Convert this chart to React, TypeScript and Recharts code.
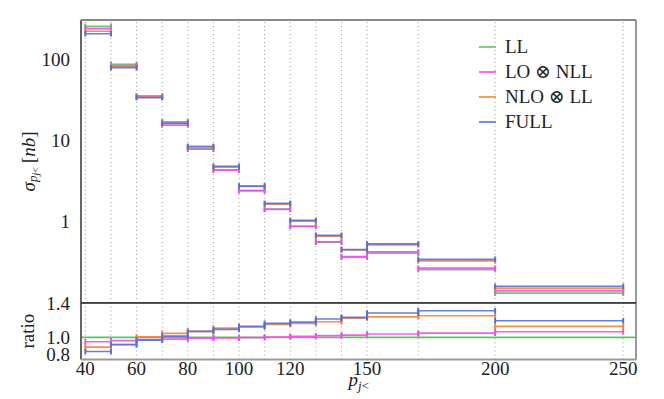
import React from 'react'
import {
  ComposedChart, Line, XAxis, YAxis, ReferenceLine, Legend,
} from 'recharts'

// bin edges of p_{j<} and the labelled ticks
const binEdges = [40, 50, 60, 70, 80, 90, 100, 110, 120, 130, 140, 150, 170, 200, 250]
const xTickLabels = [40, 60, 80, 100, 120, 150, 200, 250]

const seriesNames = ['LL', 'LO ⊗ NLL', 'NLO ⊗ LL', 'FULL']
const seriesColors = ['#5cc45c', '#ee4fee', '#f5843c', '#5870d6']

// sigma per bin [nb]
const sigmaLL = [254, 86.8, 35.0, 16.2, 7.9, 4.35, 2.42, 1.43, 0.88, 0.56, 0.365, 0.41, 0.258, 0.132]
const sigmaLONLL = [238, 83.5, 34.2, 15.5, 7.8, 4.3, 2.41, 1.42, 0.877, 0.565, 0.372, 0.425, 0.268, 0.141]
const sigmaNLOLL = [221, 80.5, 35.4, 17.0, 8.4, 4.84, 2.72, 1.65, 1.02, 0.665, 0.45, 0.52, 0.33, 0.151]
const sigmaFULL = [206, 78.8, 33.7, 16.4, 8.4, 4.74, 2.75, 1.68, 1.04, 0.681, 0.454, 0.533, 0.345, 0.16]

// ratio to LL
const ratioLONLL = [0.95, 0.962, 0.975, 0.98, 0.993, 0.995, 0.998, 1.005, 1.012, 1.02, 1.028, 1.04, 1.05, 1.066]
const ratioNLOLL = [0.888, 0.92, 1.008, 1.047, 1.07, 1.109, 1.12, 1.151, 1.163, 1.182, 1.225, 1.24, 1.252, 1.128]
const ratioFULL = [0.837, 0.915, 0.97, 1.016, 1.07, 1.093, 1.13, 1.163, 1.179, 1.214, 1.233, 1.284, 1.31, 1.194]

const yMajorTicks = [1, 10, 100]
const yMinorTicks = [0.2, 0.3, 0.4, 0.5, 0.6, 0.7, 0.8, 0.9, 2, 3, 4, 5, 6, 7, 8, 9,
  20, 30, 40, 50, 60, 70, 80, 90, 200, 300]
const ratioTicks = [0.8, 1.0, 1.4]

const X_DOMAIN: [number, number] = [38.3, 255]
const Y_DOMAIN: [number, number] = [0.1, 304]
const R_DOMAIN: [number, number] = [0.745, 1.4]

const serif = '"Liberation Serif", "DejaVu Serif", serif'
const tickStyle = { fill: '#222', fontSize: 19, fontFamily: serif }

function toSegments(values: number[]) {
  const pts: { x: number; y: number | null }[] = []
  values.forEach((v, i) => {
    pts.push({ x: binEdges[i], y: v })
    pts.push({ x: binEdges[i + 1], y: v })
    pts.push({ x: binEdges[i + 1], y: null })
  })
  return pts
}

const capDot = (color: string) => (props: any) => {
  const { cx, cy, index } = props
  if (typeof cy !== 'number' || isNaN(cy)) return <g key={`c${index}`} />
  return (
    <line key={`c${index}`} x1={cx} x2={cx} y1={cy - 2.8} y2={cy + 2.8}
      stroke={color} strokeWidth={2} />
  )
}

const segLine = (values: number[], color: string, key: string) => (
  <Line
    key={key}
    data={toSegments(values)}
    dataKey="y"
    type="linear"
    stroke={color}
    strokeWidth={1.7}
    strokeOpacity={0.9}
    dot={capDot(color)}
    activeDot={false}
    isAnimationActive={false}
    legendType="none"
  />
)

const gridLines = binEdges.map((e) => (
  <ReferenceLine key={`g${e}`} x={e} stroke="#9a9a9a" strokeDasharray="1 3" strokeWidth={1} />
))

// panel frame: four sides drawn as segments inside the domain
const frame = (yd: [number, number], topColor: string) => [
  <ReferenceLine key="fl" segment={[{ x: X_DOMAIN[0], y: yd[0] }, { x: X_DOMAIN[0], y: yd[1] }]}
    stroke="#666" strokeWidth={2} ifOverflow="visible" />,
  <ReferenceLine key="fr" segment={[{ x: X_DOMAIN[1], y: yd[0] }, { x: X_DOMAIN[1], y: yd[1] }]}
    stroke="#999" strokeWidth={2} ifOverflow="visible" />,
  <ReferenceLine key="fb" segment={[{ x: X_DOMAIN[0], y: yd[0] }, { x: X_DOMAIN[1], y: yd[0] }]}
    stroke="#999" strokeWidth={2} ifOverflow="visible" />,
  <ReferenceLine key="ft" segment={[{ x: X_DOMAIN[0], y: yd[1] }, { x: X_DOMAIN[1], y: yd[1] }]}
    stroke={topColor} strokeWidth={topColor === '#222' ? 1.5 : 2} ifOverflow="visible" />,
]

const SigmaLabel = (props: any) => {
  const { viewBox } = props
  const cx = viewBox.x - 13
  const cy = viewBox.y + viewBox.height / 2
  return (
    <text x={cx} y={cy} transform={`rotate(-90 ${cx} ${cy})`} textAnchor="middle"
      fill="#222" fontFamily={serif} fontSize={19} dominantBaseline="central">
      <tspan fontStyle="italic">σ</tspan>
      <tspan fontStyle="italic" fontSize={13} dy={4}>p</tspan>
      <tspan fontStyle="italic" fontSize={10} dy={3}>j</tspan>
      <tspan fontSize={10}>{'<'}</tspan>
      <tspan dy={-7} dx={4}>[</tspan>
      <tspan fontStyle="italic">nb</tspan>
      <tspan>]</tspan>
    </text>
  )
}

const RatioLabel = (props: any) => {
  const { viewBox } = props
  const cx = viewBox.x - 13
  const cy = viewBox.y + viewBox.height / 2
  return (
    <text x={cx} y={cy} transform={`rotate(-90 ${cx} ${cy})`} textAnchor="middle"
      fill="#222" fontFamily={serif} fontSize={19} dominantBaseline="central">
      ratio
    </text>
  )
}

const PLabel = (props: any) => {
  const { viewBox } = props
  const cx = viewBox.x + viewBox.width / 2 - 10
  const cy = viewBox.y + 27
  return (
    <text x={cx} y={cy} fill="#222" fontFamily={serif} fontSize={19}>
      <tspan fontStyle="italic">p</tspan>
      <tspan fontStyle="italic" fontSize={13} dy={4}>j</tspan>
      <tspan fontSize={13}>{'<'}</tspan>
    </text>
  )
}

const renderLegend = () => (
  <div style={{ fontFamily: serif, fontSize: 19, lineHeight: '25px', color: '#222' }}>
    {seriesNames.map((n, i) => (
      <div key={n} style={{ display: 'flex', alignItems: 'center' }}>
        <svg width={17} height={4} style={{ marginRight: 9 }}>
          <line x1={0} x2={17} y1={2} y2={2} stroke={seriesColors[i]} strokeWidth={1.6} />
        </svg>
        <span>{n}</span>
      </div>
    ))}
  </div>
)

export default function App() {
  return (
    <div style={{ position: 'absolute', left: 0, top: 0, width: 664, height: 399, background: '#fff' }}>
      <div style={{ position: 'absolute', left: 0, top: 0 }}>
        <ComposedChart width={664} height={303} margin={{ top: 20, right: 28, bottom: 0, left: 41 }}>
          <XAxis type="number" dataKey="x" domain={X_DOMAIN} allowDataOverflow hide />
          <YAxis
            scale="log"
            domain={Y_DOMAIN}
            allowDataOverflow
            ticks={yMajorTicks}
            interval={0}
            width={40}
            tick={tickStyle}
            tickSize={0}
            tickMargin={11}
            axisLine={false}
            label={<SigmaLabel />}
          />
          <YAxis yAxisId="minor" scale="log" domain={Y_DOMAIN} allowDataOverflow ticks={yMinorTicks}
            interval={0} mirror tickSize={3} tick={false} axisLine={false} tickLine={{ stroke: '#666' }} />
          <YAxis yAxisId="major" scale="log" domain={Y_DOMAIN} allowDataOverflow ticks={yMajorTicks}
            interval={0} mirror tickSize={6} tick={false} axisLine={false} tickLine={{ stroke: '#444' }} />
          {gridLines}
          {frame(Y_DOMAIN, '#888')}
          {segLine(sigmaLL, seriesColors[0], 'll')}
          {segLine(sigmaLONLL, seriesColors[1], 'lo')}
          {segLine(sigmaNLOLL, seriesColors[2], 'nlo')}
          {segLine(sigmaFULL, seriesColors[3], 'full')}
          <Legend content={renderLegend} layout="vertical" verticalAlign="middle" align="center"
            wrapperStyle={{ left: 479, top: 34, width: 160, height: 100 }} />
        </ComposedChart>
      </div>
      <div style={{ position: 'absolute', left: 0, top: 290 }}>
        <ComposedChart width={664} height={109} margin={{ top: 13, right: 28, bottom: 0, left: 41 }}>
          <XAxis
            type="number"
            dataKey="x"
            domain={X_DOMAIN}
            allowDataOverflow
            ticks={xTickLabels}
            interval={0}
            height={39.6}
            tick={tickStyle}
            tickSize={0}
            tickMargin={2}
            axisLine={false}
            label={<PLabel />}
          />
          <YAxis
            domain={R_DOMAIN}
            allowDataOverflow
            ticks={ratioTicks}
            interval={0}
            tickFormatter={(v: number) => v.toFixed(1)}
            width={40}
            tick={tickStyle}
            tickSize={0}
            tickMargin={11}
            axisLine={false}
            label={<RatioLabel />}
          />
          {gridLines}
          <ReferenceLine y={1} stroke={seriesColors[0]} strokeWidth={1.7} />
          {segLine(ratioLONLL, seriesColors[1], 'rlo')}
          {segLine(ratioNLOLL, seriesColors[2], 'rnlo')}
          {segLine(ratioFULL, seriesColors[3], 'rfull')}
          {frame(R_DOMAIN, '#222')}
        </ComposedChart>
      </div>
    </div>
  )
}
